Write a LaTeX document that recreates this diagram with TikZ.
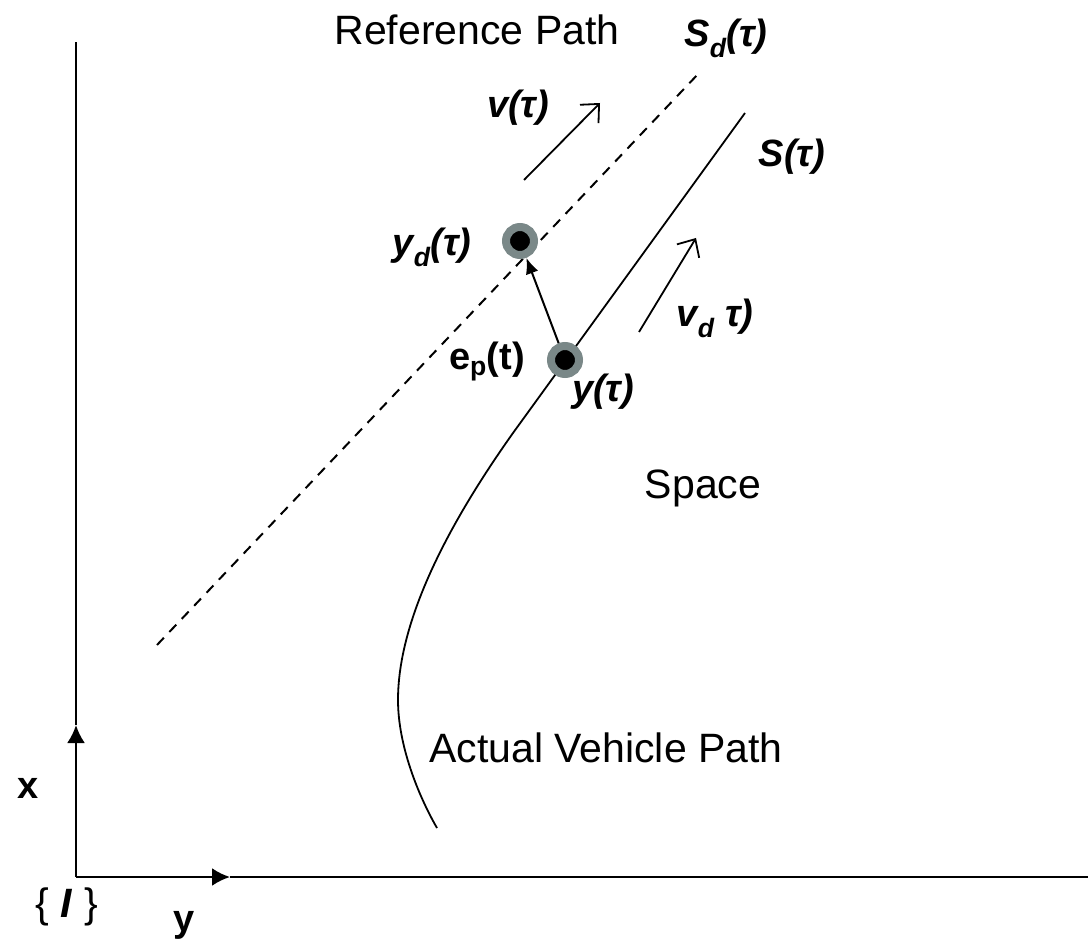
\documentclass[tikz,border=0pt]{standalone}
\usepackage{fontspec}
\setmainfont{Liberation Sans}
\usetikzlibrary{arrows.meta}
\definecolor{ringgray}{RGB}{122,136,136}

\begin{document}
\begin{tikzpicture}[x=1pt,y=-1pt,
  txt/.style={anchor=base,inner sep=0pt,font=\fontsize{41}{49}\selectfont},
  lbl/.style={anchor=base,inner sep=0pt,font=\fontsize{38}{46}\selectfont\bfseries\itshape},
  lblup/.style={anchor=base,inner sep=0pt,font=\fontsize{38}{46}\selectfont\bfseries},
  dot/.style={circle,fill=black,draw=ringgray,line width=8pt,minimum size=28pt,inner sep=0pt},
  vel/.style={line width=1.8pt,-{Straight Barb[length=14pt,width=26pt]}}]
  \useasboundingbox (0,0) rectangle (1088,941);
  % frame {I}
  \coordinate (o) at (76,877);
  \coordinate (xtip) at (76,725);
  \coordinate (xend) at (76,42);
  \coordinate (ytip) at (230,877);
  \coordinate (yend) at (1088,877);
  \draw[line width=2.5pt,-{Latex[length=18pt,width=18pt]}] (o) -- (xtip);
  \draw[line width=2.5pt] (xtip) -- (xend);
  \draw[line width=2.5pt,-{Latex[length=18pt,width=18pt]}] (o) -- (ytip);
  \draw[line width=2.5pt] (ytip) -- (yend);
  % paths
  \coordinate (sd0) at (157,645);
  \coordinate (sd1) at (700,72);
  \coordinate (s0) at (437,828);
  \coordinate (s1) at (398,700);
  \coordinate (s2) at (513,433);
  \coordinate (s3) at (745,113);
  \draw[line width=2pt,dash pattern=on 10pt off 8pt] (sd0) -- (sd1);
  \draw[line width=1.8pt] (s0) .. controls (418,795) and (398,745) .. (s1)
    .. controls (398,610) and (462,505) .. (s2) -- (s3);
  % points and error
  \node[dot] (yd) at (520,241) {};
  \node[dot] (yt) at (565,360) {};
  \draw[line width=2pt,-{Latex[length=16pt,width=13pt]}] (yt) -- (yd);
  \coordinate (v0) at (524,180);
  \coordinate (v1) at (600,103);
  \coordinate (vd0) at (639,332);
  \coordinate (vd1) at (696,238);
  \draw[vel] (v0) -- (v1);
  \draw[vel] (vd0) -- (vd1);
  % labels
  \node[txt] (refp) at (477,45) {Reference Path};
  \node[lbl] (sdl) at (726,47) {S\textsubscript{d}(τ)};
  \node[lbl] (vl) at (518,118) {v(τ)};
  \node[lbl] (sl) at (792,167) {S(τ)};
  \node[lbl] (ydl) at (432,256) {y\textsubscript{d}(τ)};
  \node[lblup] (epl) at (487,370) {e\textsubscript{p}(t)};
  \node[lbl] (ytl) at (603,402) {y(τ)};
  \node[lbl] (vdl) at (715,327) {v\textsubscript{d} τ)};
  \node[txt] (space) at (703,498) {Space};
  \node[txt] (avp) at (606,762) {Actual Vehicle Path};
  \node[lblup] (xl) at (28,798) {x};
  \node[txt] (framel) at (67,917) {\{ \textbf{\textit{I}} \}};
  \node[lblup] (yl) at (184,931) {y};
\end{tikzpicture}
\end{document}
